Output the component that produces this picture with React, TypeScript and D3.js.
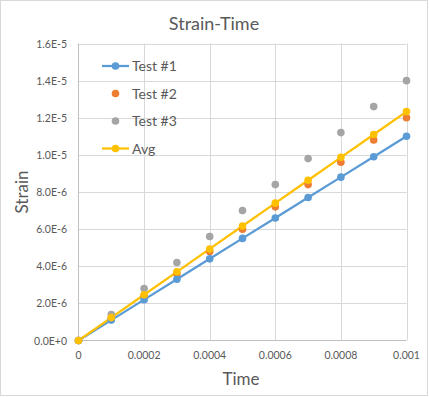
import React, { useEffect, useRef } from 'react';
import * as d3 from 'd3';

const times = [0, 0.0001, 0.0002, 0.0003, 0.0004, 0.0005, 0.0006, 0.0007, 0.0008, 0.0009, 0.001];
const test1 = [0, 1.1e-6, 2.2e-6, 3.3e-6, 4.4e-6, 5.5e-6, 6.6e-6, 7.7e-6, 8.8e-6, 9.9e-6, 1.1e-5];
const test2 = [0, 1.2e-6, 2.4e-6, 3.6e-6, 4.8e-6, 6.0e-6, 7.2e-6, 8.4e-6, 9.6e-6, 1.08e-5, 1.2e-5];
const test3 = [0, 1.4e-6, 2.8e-6, 4.2e-6, 5.6e-6, 7.0e-6, 8.4e-6, 9.8e-6, 1.12e-5, 1.26e-5, 1.4e-5];
const avg = [0, 1.233e-6, 2.467e-6, 3.7e-6, 4.933e-6, 6.167e-6, 7.4e-6, 8.633e-6, 9.867e-6, 1.11e-5, 1.233e-5];

const xTicks = [0, 0.0002, 0.0004, 0.0006, 0.0008, 0.001];
const xTickLabels = ['0', '0.0002', '0.0004', '0.0006', '0.0008', '0.001'];
const yTicks = [0, 2e-6, 4e-6, 6e-6, 8e-6, 1e-5, 1.2e-5, 1.4e-5, 1.6e-5];
const yTickLabels = ['0.0E+0', '2.0E-6', '4.0E-6', '6.0E-6', '8.0E-6', '1.0E-5', '1.2E-5', '1.4E-5', '1.6E-5'];

const series = [
  { name: 'Test #1', values: test1, color: '#5b9bd5', line: true },
  { name: 'Test #2', values: test2, color: '#ed7d31', line: false },
  { name: 'Test #3', values: test3, color: '#a5a5a5', line: false },
  { name: 'Avg', values: avg, color: '#ffc000', line: true },
];

const W = 429;
const H = 397;
const FONT = 'Lato, "Open Sans", sans-serif';

const App: React.FC = () => {
  const ref = useRef<SVGSVGElement>(null);

  useEffect(() => {
    if (!ref.current) return;
    const svg = d3.select(ref.current);
    svg.selectAll('*').remove();

    const x = d3.scaleLinear().domain([0, 0.001]).range([78.5, 406.5]);
    const y = d3.scaleLinear().domain([0, 1.6e-5]).range([340.5, 43.5]);

    svg.append('rect').attr('x', 0).attr('y', 0).attr('width', W).attr('height', H).attr('fill', '#fff');
    svg.append('rect').attr('x', 0.5).attr('y', 0.5).attr('width', W - 2).attr('height', H - 2)
      .attr('fill', 'none').attr('stroke', '#d9d9d9');

    // title
    svg.append('text').attr('x', 214).attr('y', 30).attr('text-anchor', 'middle')
      .attr('font-family', FONT).attr('font-size', 18).attr('fill', '#595959').text('Strain-Time');

    // gridlines
    svg.selectAll('line.hg').data(yTicks.slice(1)).enter().append('line')
      .attr('x1', x(0)).attr('x2', x(0.001))
      .attr('y1', d => Math.round(y(d)) + 0.5).attr('y2', d => Math.round(y(d)) + 0.5)
      .attr('stroke', '#d9d9d9');
    svg.selectAll('line.vg').data(xTicks.slice(1)).enter().append('line')
      .attr('y1', y(0)).attr('y2', y(1.6e-5))
      .attr('x1', d => Math.round(x(d)) + 0.5).attr('x2', d => Math.round(x(d)) + 0.5)
      .attr('stroke', '#d9d9d9');
    // axes
    svg.append('line').attr('x1', x(0)).attr('x2', x(0.001)).attr('y1', y(0)).attr('y2', y(0)).attr('stroke', '#bfbfbf');
    svg.append('line').attr('x1', x(0)).attr('x2', x(0)).attr('y1', y(0)).attr('y2', y(1.6e-5)).attr('stroke', '#bfbfbf');

    // tick labels
    svg.selectAll('text.yt').data(yTicks).enter().append('text')
      .attr('x', 67).attr('y', d => y(d) + 4).attr('text-anchor', 'end')
      .attr('font-family', FONT).attr('font-size', 10.5).attr('fill', '#595959')
      .text((d, i) => yTickLabels[i]);
    svg.selectAll('text.xt').data(xTicks).enter().append('text')
      .attr('x', d => x(d)).attr('y', 359).attr('text-anchor', 'middle')
      .attr('font-family', FONT).attr('font-size', 10.5).attr('fill', '#595959')
      .text((d, i) => xTickLabels[i]);

    // axis titles
    svg.append('text').attr('transform', 'translate(28,192) rotate(-90)').attr('text-anchor', 'middle')
      .attr('font-family', FONT).attr('font-size', 17).attr('fill', '#595959').text('Strain');
    svg.append('text').attr('x', 241).attr('y', 385).attr('text-anchor', 'middle')
      .attr('font-family', FONT).attr('font-size', 17).attr('fill', '#595959').text('Time');

    const line = d3.line<number>().x((d, i) => x(times[i])).y(d => y(d));

    series.forEach(s => {
      if (s.line) {
        svg.append('path').attr('d', line(s.values)).attr('fill', 'none')
          .attr('stroke', s.color).attr('stroke-width', 2.25).attr('stroke-linejoin', 'round');
      }
    });
    [series[1], series[2], series[0], series[3]].forEach(s => {
      svg.append('g').selectAll('circle').data(s.values).enter().append('circle')
        .attr('cx', (d, i) => x(times[i])).attr('cy', d => y(d)).attr('r', 3.8).attr('fill', s.color);
    });

    // legend
    const ly = [66, 93.5, 121, 148.5];
    series.forEach((s, i) => {
      const g = svg.append('g').attr('transform', `translate(0,${ly[i]})`);
      if (s.line) {
        g.append('line').attr('x1', 102).attr('x2', 129).attr('stroke', s.color).attr('stroke-width', 2.25);
      }
      g.append('circle').attr('cx', 115.5).attr('cy', 0).attr('r', 3.8).attr('fill', s.color);
      g.append('text').attr('x', 132).attr('y', 5).attr('font-family', FONT).attr('font-size', 14)
        .attr('fill', '#595959').text(s.name);
    });
  }, []);

  return (
    <div style={{ position: 'absolute', left: 0, top: 0 }}>
      <svg ref={ref} width={W} height={H} style={{ display: 'block' }} />
    </div>
  );
};

export default App;
